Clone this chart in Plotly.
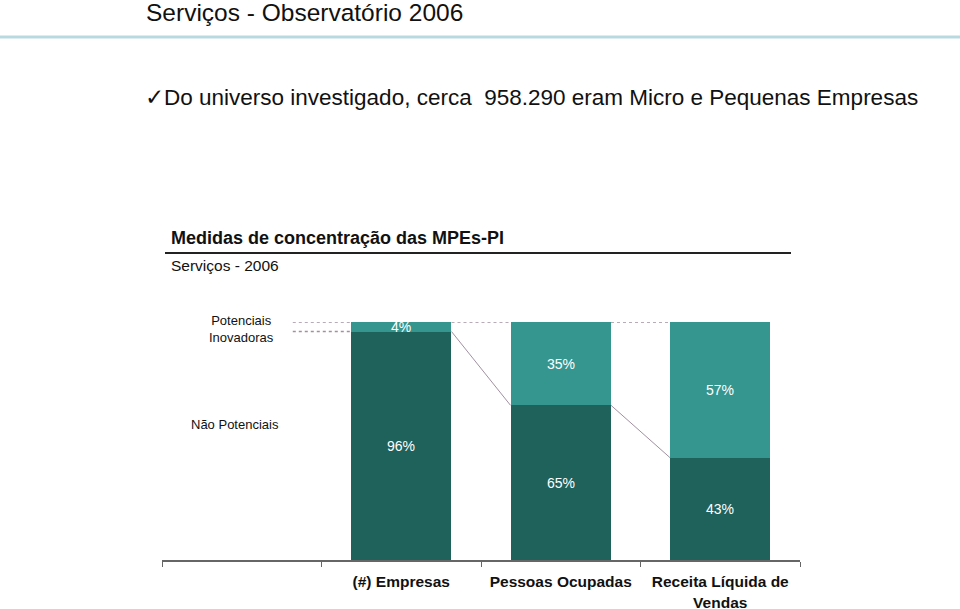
import plotly.graph_objects as go

categories = [" ", "(#) Empresas", "Pessoas Ocupadas", "Receita Líquida de<br>Vendas"]
nao_potenciais = [None, 96, 65, 43]
potenciais = [None, 4, 35, 57]
series_names = ["Não Potenciais", "Potenciais<br>Inovadoras"]

DARK = "#1f625c"
LIGHT = "#35968f"
DOT = "#a090a0"
FONT = "Liberation Sans, Arial, sans-serif"
BW = 0.63

fig = go.Figure()
fig.add_trace(go.Bar(
    x=categories, y=nao_potenciais, marker=dict(color=DARK, line=dict(width=0)),
    width=BW, text=[None if v is None else f"{v}%" for v in nao_potenciais],
    textposition="inside", insidetextanchor="middle", constraintext="none",
    textfont=dict(color="white", size=14, family=FONT), name=series_names[0],
))
fig.add_trace(go.Bar(
    x=categories, y=potenciais, marker=dict(color=LIGHT, line=dict(width=0)),
    width=BW, text=[None if v is None else f"{v}%" for v in potenciais],
    textposition="inside", insidetextanchor="middle", constraintext="none",
    textfont=dict(color="white", size=14, family=FONT), name=series_names[1],
))

# connector lines derived from data
n = len(categories)
for i in range(1, n - 1):
    x0 = i + BW / 2
    x1 = i + 1 - BW / 2
    top0 = nao_potenciais[i] + potenciais[i]
    top1 = nao_potenciais[i + 1] + potenciais[i + 1]
    fig.add_shape(type="line", xref="x", yref="y", x0=x0, x1=x1, y0=top0, y1=top1,
                  line=dict(color=DOT, width=1.5, dash="dot"))
    fig.add_shape(type="line", xref="x", yref="y", x0=x0, x1=x1,
                  y0=nao_potenciais[i], y1=nao_potenciais[i + 1],
                  line=dict(color=DOT, width=1, dash="solid"))
# left leader lines to first bar
xl0 = 0.32
xl1 = 1 - BW / 2
fig.add_shape(type="line", xref="x", yref="y", x0=xl0, x1=xl1,
              y0=nao_potenciais[1] + potenciais[1], y1=nao_potenciais[1] + potenciais[1],
              line=dict(color=DOT, width=1.5, dash="dot"))
fig.add_shape(type="line", xref="x", yref="y", x0=xl0, x1=xl1,
              y0=nao_potenciais[1], y1=nao_potenciais[1],
              line=dict(color=DOT, width=1.5, dash="dot"))

# series labels on the left
fig.add_annotation(x=0, y=nao_potenciais[1] + potenciais[1] / 2 - 1, xref="x", yref="y",
                   text=series_names[1], showarrow=False,
                   font=dict(family=FONT, size=13, color="#111"), align="center")
fig.add_annotation(x=-0.04, y=57, xref="x", yref="y", text=series_names[0], showarrow=False,
                   font=dict(family=FONT, size=13, color="#111"))

W, H = 960, 609
L, R, T, B = 162, 160, 322, 49
pw, ph = W - L - R, H - T - B

def px(xp):
    return (xp - L) / pw

def py(yp):
    return (H - B - yp) / ph

texts = [
    (144, 12, "Serviços - Observatório 2006", 24.5),
    (143, 97, "✓Do universo investigado, cerca  958.290 eram Micro e Pequenas Empresas", 22.5),
    (169, 238, "<b>Medidas de concentração das MPEs-PI</b>", 18),
    (169, 265, "Serviços - 2006", 15.5),
]
for xp, yp, t, s in texts:
    fig.add_annotation(x=px(xp), y=py(yp), xref="paper", yref="paper", text=t,
                       showarrow=False, xanchor="left", yanchor="middle",
                       font=dict(family=FONT, size=s, color="#111"))

fig.add_shape(type="line", xref="paper", yref="paper", x0=px(0), x1=px(960), y0=py(37), y1=py(37),
              line=dict(color="#b9d9e1", width=3))
fig.add_shape(type="line", xref="paper", yref="paper", x0=px(165), x1=px(791), y0=py(253), y1=py(253),
              line=dict(color="#222", width=2))

fig.update_layout(
    width=W, height=H, barmode="stack", showlegend=False,
    margin=dict(l=L, r=R, t=T, b=B, pad=0, autoexpand=False),
    plot_bgcolor="white", paper_bgcolor="white", bargap=0,
    xaxis=dict(type="category", categoryorder="array", categoryarray=categories,
               range=[-0.5, n - 0.5], tickson="boundaries", ticks="outside", ticklen=5,
               tickcolor="#666", showline=True, linecolor="#666", linewidth=1.5,
               showgrid=False, zeroline=False, automargin=False,
               tickfont=dict(family=FONT, size=15.5, color="#111"), ticklabelstandoff=7),
    yaxis=dict(range=[0, 100], visible=False, showgrid=False, zeroline=False, automargin=False),
)
fig.update_xaxes(tickprefix="<b>", ticksuffix="</b>")

fig.write_html("out.html")
